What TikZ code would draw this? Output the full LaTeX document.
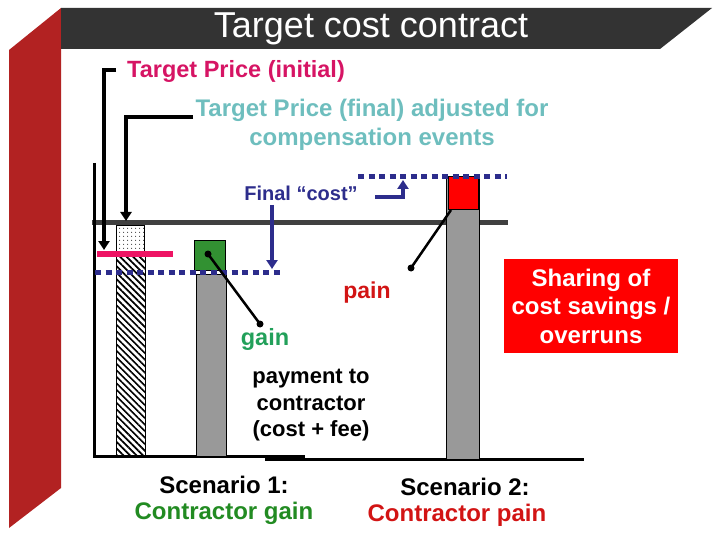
\documentclass[tikz,border=0pt]{standalone}
\usepackage{fontspec}
\setmainfont{Liberation Sans}
\usetikzlibrary{arrows.meta,patterns.meta}
\definecolor{bandred}{RGB}{178,34,34}
\definecolor{bannergray}{RGB}{51,51,51}
\definecolor{tpink}{RGB}{214,20,100}
\definecolor{lpink}{RGB}{238,20,100}
\definecolor{tteal}{RGB}{110,190,190}
\definecolor{navyb}{RGB}{45,45,140}
\definecolor{barg}{RGB}{153,153,153}
\definecolor{lineg}{RGB}{64,64,64}
\definecolor{gbox}{RGB}{50,145,50}
\definecolor{gaing}{RGB}{34,160,90}
\definecolor{cgain}{RGB}{34,139,34}
\definecolor{painr}{RGB}{210,20,20}
\definecolor{boxred}{RGB}{255,0,0}
\tikzset{
  txt/.style={inner sep=0pt, align=center, font=\bfseries\fontsize{#1}{#1}\selectfont},
  blkarrow/.style={draw=black, line width=3.5pt, -{Triangle[length=9pt,width=11pt]}},
  bluearrow/.style={draw=navyb, line width=3.5pt, -{Triangle[length=9pt,width=11pt]}},
  bluedots/.style={draw=navyb, line width=5pt, dash pattern=on 6pt off 4.5pt},
  bar/.style={draw=black, line width=1pt, fill=barg},
  pointer/.style={draw=black, line width=2.5pt},
  enddot/.style={circle, fill=black, inner sep=0pt, minimum size=7pt},
}
\begin{document}
\begin{tikzpicture}[x=1pt,y=-1pt]
\useasboundingbox (0,0) rectangle (720,540);
% side band and banner
\fill[bandred] (9,50) -- (61,8) -- (61,488) -- (9,528) -- cycle;
\fill[bannergray] (61,8) -- (712,8) -- (660,49) -- (61,49) -- cycle;
\node[inner sep=0pt, text=white, font=\fontsize{36}{36}\selectfont] (title) at (371,29) {Target cost contract};

% level line and axes
\draw[lineg, line width=5pt] (92,223) -- (508,223);
\draw[black, line width=3pt] (94,163) -- (94,457);
\draw[black, line width=3pt] (93,456) -- (305,456);
\draw[black, line width=3pt] (265,459) -- (584,459);

% target price bar
\draw[black, line width=1pt, pattern={Dots[radius=0.6pt,distance=4pt]}] (116,226) rectangle (144,251);
\draw[black, line width=1pt, pattern={Lines[angle=-45,distance=4.6pt,line width=1.7pt]}] (116,251) rectangle (145,456);
\draw[lpink, line width=6pt] (97,254) -- (173,254);

% scenario 1 bar
\node[bar, anchor=north west, minimum width=30pt, minimum height=182pt, inner sep=0pt] (bar1) at (196,274) {};
\node[draw=black, line width=1pt, fill=gbox, anchor=north west, minimum width=31pt, minimum height=30pt, inner sep=0pt] (gbox) at (194,240) {};
\draw[bluedots] (95,272) -- (282,272);

% scenario 2 bar
\node[bar, anchor=north west, minimum width=33pt, minimum height=283pt, inner sep=0pt] (bar2) at (446,176) {};
\node[draw=black, line width=1pt, fill=boxred, anchor=north west, minimum width=30pt, minimum height=33pt, inner sep=0pt] (rbox) at (448,176) {};
\draw[bluedots] (358,177) -- (507,177);

% texts
\node[txt=23.5, text=tpink, anchor=west] (tpi) at (127,71) {Target Price (initial)};
\node[txt=24, text=tteal] (tpf) at (372,124.5) {Target Price (final) adjusted for\\[5pt]compensation events};
\node[txt=20, text=navyb] (fcost) at (301,193) {Final “cost”};
\node[txt=23, text=painr] (pain) at (367,293) {pain};
\node[txt=23.5, text=gaing] (gain) at (265,339) {gain};
\node[txt=22] (pay) at (311,405.5) {payment to\\[4.5pt]contractor\\[4.5pt](cost + fee)};
\node[txt=24, text=white, fill=boxred, minimum width=174pt, minimum height=94pt] (share) at (591,306) {Sharing of\\[4.5pt]cost savings /\\[4.5pt]overruns};
\node[txt=24] (sc1) at (224,485) {Scenario 1:};
\node[txt=24, text=cgain] (cg) at (224,513) {Contractor gain};
\node[txt=24] (sc2) at (465,487) {Scenario 2:};
\node[txt=24, text=painr] (cp) at (457,515) {Contractor pain};

% bracket arrows
\coordinate (a1s) at (116,70);
\coordinate (a1t) at (104,250);
\draw[blkarrow] (a1s) -- (104,70) -- (a1t);
\coordinate (a2s) at (193,117);
\coordinate (a2t) at (126,221);
\draw[blkarrow] (a2s) -- (126,117) -- (a2t);

% final cost arrows
\coordinate (b1s) at (272,205);
\coordinate (b1t) at (272,269);
\draw[bluearrow] (b1s) -- (b1t);
\coordinate (b2s) at (375,197);
\coordinate (b2t) at (403,180);
\draw[bluearrow] (b2s) -- (403,197) -- (b2t);

% gain / pain pointers
\node[enddot] (gd1) at (208,254) {};
\node[enddot] (gd2) at (260,324) {};
\draw[pointer] (gd1.center) -- (gd2.center);
\node[enddot] (pd1) at (411,268) {};
\coordinate (pd2) at (rbox.south west);
\draw[pointer] (pd1.center) -- ([xshift=3pt]pd2);
\end{tikzpicture}
\end{document}
